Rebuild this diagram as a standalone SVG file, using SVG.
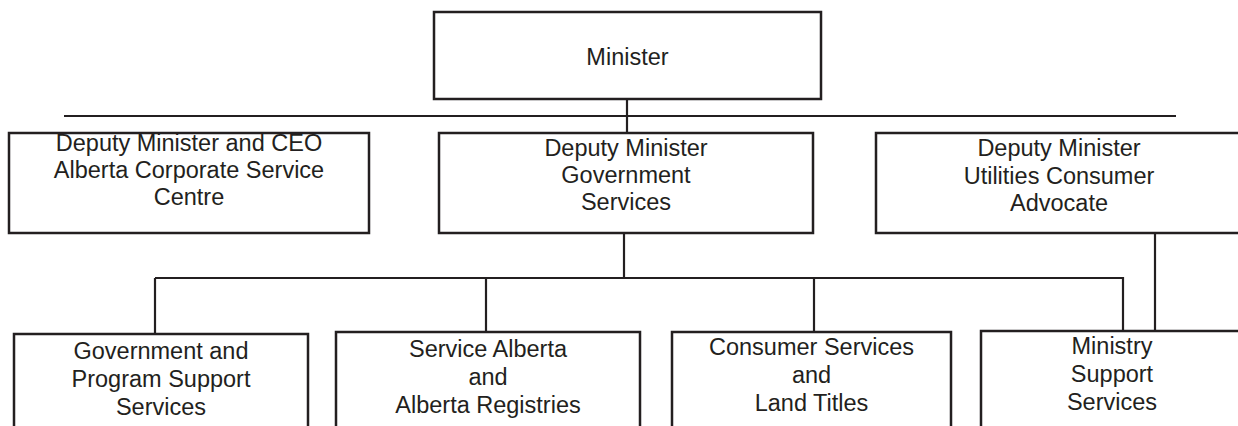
<svg xmlns="http://www.w3.org/2000/svg" width="1238" height="426" viewBox="0 0 1238 426">
<style>
.box{fill:#fff;stroke:#231f20;stroke-width:2.5}
.ln{fill:none;stroke:#231f20;stroke-width:2.2}
text{font-family:"Liberation Sans",Arial,sans-serif;font-size:23.5px;fill:#231f20;text-anchor:middle}
</style>
<rect width="1238" height="426" fill="#fff"/>
<g id="connectors">
<line class="ln" x1="627" y1="99" x2="627" y2="133"/>
<line class="ln" x1="64" y1="116" x2="1176" y2="116"/>
<line class="ln" x1="624" y1="233" x2="624" y2="278"/>
<line class="ln" x1="155" y1="278" x2="1123" y2="278"/>
<line class="ln" x1="155" y1="278" x2="155" y2="334"/>
<line class="ln" x1="486" y1="278" x2="486" y2="332"/>
<line class="ln" x1="814" y1="278" x2="814" y2="332"/>
<line class="ln" x1="1123" y1="277" x2="1123" y2="331"/>
<line class="ln" x1="1155" y1="233" x2="1155" y2="331"/>
</g>
<g id="minister">
<rect class="box" x="434" y="12" width="387" height="87"/>
<text x="627.5" y="65">Minister</text>
</g>
<g id="dm-acsc">
<rect class="box" x="9" y="133" width="360" height="100"/>
<text x="189" y="151">Deputy Minister and CEO</text>
<text x="189" y="178">Alberta Corporate Service</text>
<text x="189" y="205">Centre</text>
</g>
<g id="dm-gs">
<rect class="box" x="439" y="133" width="374" height="100"/>
<text x="626" y="156">Deputy Minister</text>
<text x="626" y="183">Government</text>
<text x="626" y="210">Services</text>
</g>
<g id="dm-uca">
<rect class="box" x="876" y="133" width="366" height="100"/>
<text x="1059" y="156">Deputy Minister</text>
<text x="1059" y="184">Utilities Consumer</text>
<text x="1059" y="211">Advocate</text>
</g>
<g id="gpss">
<rect class="box" x="14" y="334" width="294" height="110"/>
<text x="161" y="359">Government and</text>
<text x="161" y="387">Program Support</text>
<text x="161" y="415">Services</text>
</g>
<g id="saar">
<rect class="box" x="336" y="332" width="304" height="110"/>
<text x="488" y="357">Service Alberta</text>
<text x="488" y="385">and</text>
<text x="488" y="413">Alberta Registries</text>
</g>
<g id="cslt">
<rect class="box" x="672" y="332" width="279" height="110"/>
<text x="811.5" y="355">Consumer Services</text>
<text x="811.5" y="383">and</text>
<text x="811.5" y="411">Land Titles</text>
</g>
<g id="mss">
<rect class="box" x="981" y="331" width="262" height="110"/>
<text x="1112" y="354">Ministry</text>
<text x="1112" y="382">Support</text>
<text x="1112" y="410">Services</text>
</g>
</svg>
